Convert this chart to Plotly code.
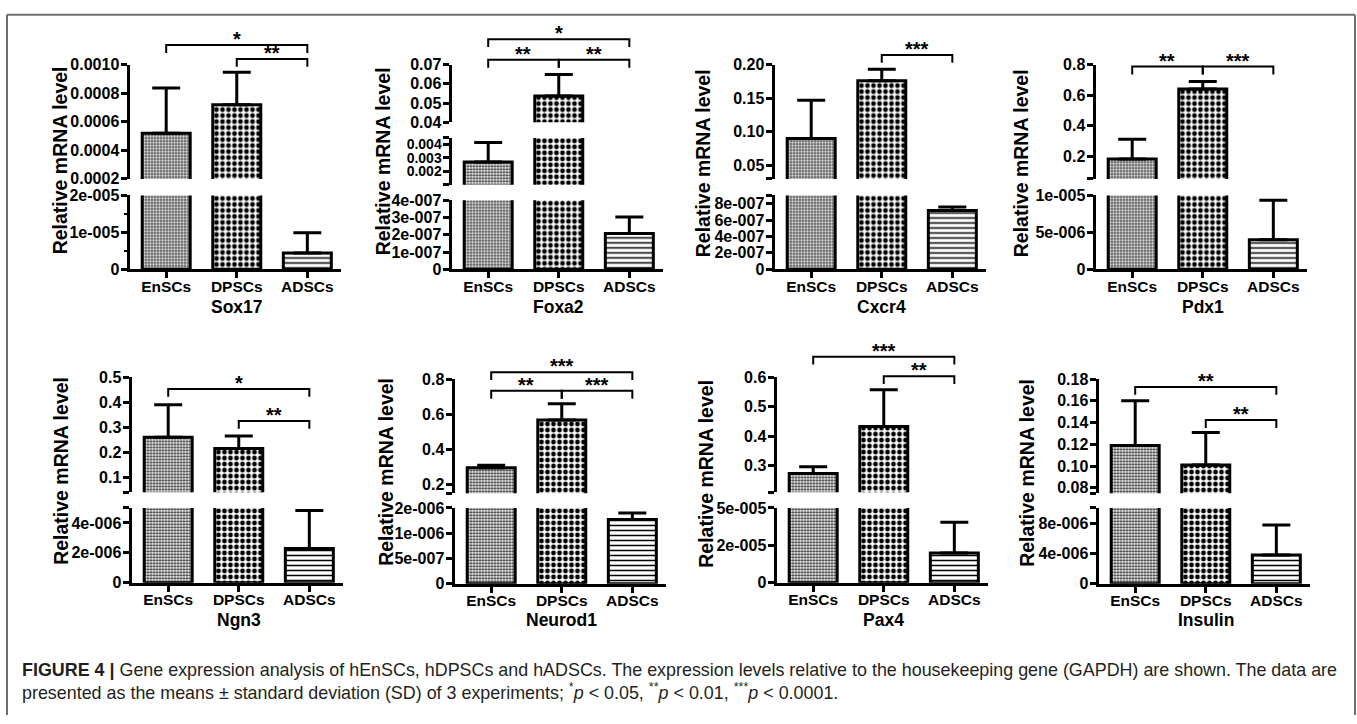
import plotly.graph_objects as go

W, H = 1357, 724
FONT = "Liberation Sans"

# ---------------- data ----------------
categories = ["EnSCs", "DPSCs", "ADSCs"]
genes = ["Sox17", "Foxa2", "Cxcr4", "Pdx1", "Ngn3", "Neurod1", "Pax4", "Insulin"]

sox17_mean = [5.2e-4, 7.2e-4, 4.4e-6]
sox17_sd = [3.17e-4, 2.27e-4, 5.5e-6]
foxa2_mean = [2.7e-3, 5.37e-2, 2.08e-7]
foxa2_sd = [1.45e-3, 1.12e-2, 9.5e-8]
cxcr4_mean = [0.090, 0.176, 7.17e-7]
cxcr4_sd = [0.057, 0.017, 4.3e-8]
pdx1_mean = [0.18, 0.64, 4.0e-6]
pdx1_sd = [0.13, 0.05, 5.35e-6]
ngn3_mean = [0.26, 0.215, 2.29e-6]
ngn3_sd = [0.13, 0.05, 2.54e-6]
neurod1_mean = [0.295, 0.567, 1.27e-6]
neurod1_sd = [0.015, 0.093, 1.3e-7]
pax4_mean = [0.274, 0.433, 1.99e-5]
pax4_sd = [0.023, 0.124, 2.05e-5]
insulin_mean = [0.119, 0.101, 3.8e-6]
insulin_sd = [0.041, 0.030, 3.95e-6]

# broken-axis segments (top to bottom): (low, high)
sox17_segments = [(2e-4, 1e-3), (0, 2e-5)]
foxa2_segments = [(0.04, 0.07), (0.001, 0.0045), (0, 4e-7)]
cxcr4_segments = [(0.03, 0.20), (0, 9e-7)]
pdx1_segments = [(0.05, 0.8), (0, 1e-5)]
ngn3_segments = [(0.04, 0.5), (0, 5e-6)]
neurod1_segments = [(0.15, 0.8), (0, 1.5e-6)]
pax4_segments = [(0.21, 0.6), (0, 5e-5)]
insulin_segments = [(0.075, 0.18), (0, 1e-5)]

# labelled tick values / labels per segment
sox17_tickvals = [[2e-4, 4e-4, 6e-4, 8e-4, 1e-3], [0, 1e-5, 2e-5]]
sox17_ticktext = [["0.0002", "0.0004", "0.0006", "0.0008", "0.0010"], ["0", "1e-005", "2e-005"]]
foxa2_tickvals = [[0.04, 0.05, 0.06, 0.07], [0.002, 0.003, 0.004], [0, 1e-7, 2e-7, 3e-7, 4e-7]]
foxa2_ticktext = [["0.04", "0.05", "0.06", "0.07"], ["0.002", "0.003", "0.004"],
                  ["0", "1e-007", "2e-007", "3e-007", "4e-007"]]
cxcr4_tickvals = [[0.05, 0.10, 0.15, 0.20], [0, 2e-7, 4e-7, 6e-7, 8e-7]]
cxcr4_ticktext = [["0.05", "0.10", "0.15", "0.20"], ["0", "2e-007", "4e-007", "6e-007", "8e-007"]]
pdx1_tickvals = [[0.2, 0.4, 0.6, 0.8], [0, 5e-6, 1e-5]]
pdx1_ticktext = [["0.2", "0.4", "0.6", "0.8"], ["0", "5e-006", "1e-005"]]
ngn3_tickvals = [[0.1, 0.2, 0.3, 0.4, 0.5], [0, 2e-6, 4e-6]]
ngn3_ticktext = [["0.1", "0.2", "0.3", "0.4", "0.5"], ["0", "2e-006", "4e-006"]]
neurod1_tickvals = [[0.2, 0.4, 0.6, 0.8], [0, 5e-7, 1e-6, 1.5e-6]]
neurod1_ticktext = [["0.2", "0.4", "0.6", "0.8"], ["0", "5e-007", "1e-006", "2e-006"]]
pax4_tickvals = [[0.3, 0.4, 0.5, 0.6], [0, 2.5e-5, 5e-5]]
pax4_ticktext = [["0.3", "0.4", "0.5", "0.6"], ["0", "2e-005", "5e-005"]]
insulin_tickvals = [[0.08, 0.10, 0.12, 0.14, 0.16, 0.18], [0, 4e-6, 8e-6]]
insulin_ticktext = [["0.08", "0.10", "0.12", "0.14", "0.16", "0.18"], ["0", "4e-006", "8e-006"]]

# significance brackets: (group i, group j, level in top-segment units, label)
sox17_sig = [(0, 2, 1.137e-3, "*"), (1, 2, 1.04e-3, "**")]
foxa2_sig = [(0, 2, 0.0832, "*"), (0, 1, 0.0725, "**"), (1, 2, 0.0725, "**")]
cxcr4_sig = [(1, 2, 0.2145, "***")]
pdx1_sig = [(0, 1, 0.787, "**"), (1, 2, 0.787, "***")]
ngn3_sig = [(0, 2, 0.453, "*"), (1, 2, 0.325, "**")]
neurod1_sig = [(0, 2, 0.839, "***"), (0, 1, 0.733, "**"), (1, 2, 0.733, "***")]
pax4_sig = [(0, 2, 0.669, "***"), (1, 2, 0.603, "**")]
insulin_sig = [(0, 2, 0.1728, "**"), (1, 2, 0.1423, "**")]

caption_line1 = ("<b>FIGURE 4 |</b> Gene expression analysis of hEnSCs, hDPSCs and hADSCs. "
                 "The expression levels relative to the housekeeping gene (GAPDH) are shown. The data are")
caption_line2 = ("presented as the means ± standard deviation (SD) of 3 experiments; "
                 "<sup>*</sup><i>p</i> &lt; 0.05, <sup>**</sup><i>p</i> &lt; 0.01, "
                 "<sup>***</sup><i>p</i> &lt; 0.0001.")

panels = {
    "Sox17": (sox17_mean, sox17_sd, sox17_segments, sox17_tickvals, sox17_ticktext, sox17_sig),
    "Foxa2": (foxa2_mean, foxa2_sd, foxa2_segments, foxa2_tickvals, foxa2_ticktext, foxa2_sig),
    "Cxcr4": (cxcr4_mean, cxcr4_sd, cxcr4_segments, cxcr4_tickvals, cxcr4_ticktext, cxcr4_sig),
    "Pdx1": (pdx1_mean, pdx1_sd, pdx1_segments, pdx1_tickvals, pdx1_ticktext, pdx1_sig),
    "Ngn3": (ngn3_mean, ngn3_sd, ngn3_segments, ngn3_tickvals, ngn3_ticktext, ngn3_sig),
    "Neurod1": (neurod1_mean, neurod1_sd, neurod1_segments, neurod1_tickvals, neurod1_ticktext, neurod1_sig),
    "Pax4": (pax4_mean, pax4_sd, pax4_segments, pax4_tickvals, pax4_ticktext, pax4_sig),
    "Insulin": (insulin_mean, insulin_sd, insulin_segments, insulin_tickvals, insulin_ticktext, insulin_sig),
}

# ---------------- geometry / style (pixels) ----------------
axis_x_px = [128, 450, 773, 1094, 130, 453, 775, 1097]
seg_px = {
    "Sox17": [(58, 175), (192, 269)],
    "Foxa2": [(58, 117), (133, 181), (197, 269)],
    "Cxcr4": [(58, 175), (192, 269)],
    "Pdx1": [(58, 175), (192, 269)],
    "Ngn3": [(378, 496), (512, 590)],
    "Neurod1": [(380, 497), (512, 591)],
    "Pax4": [(378, 496), (512, 590)],
    "Insulin": [(380, 497), (512, 591)],
}
ytitle_x_px = [60, 383, 703, 1021, 61, 386, 706, 1027]
ytitle_y_px = [156, 157, 159, 159, 474, 475, 477, 476]
gene_label_y_px = [306, 306, 306, 306, 627, 627, 627, 627]
PLOT_W = 211
XRANGE = [-0.52, 2.47]
LEG_PX = 8

pattern_shape = [".", ".", "-"]
pattern_size = [3, 6, 5]
pattern_solidity = [0.45, 0.5, 0.3]
pattern_fg = ["#222222", "black", "black"]

tickfont = dict(family=FONT, size=16, color="black", weight="bold")
tightfont = dict(family=FONT, size=14, color="black", weight="bold")
xtickfont = dict(family=FONT, size=15.5, color="black", weight="bold")

fig = go.Figure()
layout = dict(width=W, height=H, margin=dict(l=0, r=0, t=0, b=0),
              paper_bgcolor="white", plot_bgcolor="rgba(0,0,0,0)",
              showlegend=False, bargap=0.32)
shapes = []
annotations = []
xpos = list(range(len(categories)))

ycount = 0
for p, gene in enumerate(genes):
    mean, sd, segs, tvals, ttext, sig = panels[gene]
    xname = "x" if p == 0 else f"x{p+1}"
    xkey = "xaxis" if p == 0 else f"xaxis{p+1}"
    ax_px = axis_x_px[p] + 1.5
    x_dom = [ax_px / W, (ax_px + PLOT_W) / W]
    ynames = []
    for s, (lo, hi) in enumerate(segs):
        ycount += 1
        yname = "y" if ycount == 1 else f"y{ycount}"
        ykey = "yaxis" if ycount == 1 else f"yaxis{ycount}"
        ynames.append(yname)
        top_px, bot_px = seg_px[gene][s]
        if s == len(segs) - 1:
            bot_px -= 1.5
        y_dom = [1 - bot_px / H, 1 - top_px / H]
        err = [e if lo <= m <= hi else 0 for m, e in zip(mean, sd)]
        fig.add_trace(go.Bar(
            x=xpos, y=mean, xaxis=xname, yaxis=yname,
            marker=dict(color="white",
                        line=dict(color="black", width=3),
                        pattern=dict(shape=pattern_shape, size=pattern_size,
                                     solidity=pattern_solidity, fgcolor=pattern_fg,
                                     bgcolor="white", fillmode="replace")),
            error_y=dict(type="data", symmetric=False, array=err,
                         arrayminus=[0] * len(err), color="black",
                         thickness=3, width=14),
            hoverinfo="skip"))
        # label size from the pixel gap between labelled ticks
        px_per_unit = (bot_px - top_px) / (hi - lo)
        vals = tvals[s]
        min_gap = min(abs(a - b) for a, b in zip(vals[1:], vals[:-1])) * px_per_unit
        # unlabelled end ticks at the segment ends (axis-break marks)
        ends = [v for v in (lo, hi) if all(abs(v - t) > 1e-12 * max(1, abs(hi)) for t in vals)]
        yax = dict(domain=y_dom, range=[lo, hi], anchor=xname,
                   showline=True, linecolor="black", linewidth=3,
                   ticks="outside", ticklen=6, tickwidth=3, tickcolor="black",
                   tickvals=vals, ticktext=ttext[s],
                   tickfont=tightfont if min_gap < 16 else tickfont,
                   ticklabelstandoff=-2,
                   showgrid=False, zeroline=False, fixedrange=True)
        if gene == "Sox17" and s == 1:
            yax["minor"] = dict(tickvals=[5e-6, 1.5e-5], ticks="outside",
                                ticklen=3, tickwidth=2, tickcolor="black")
        elif ends:
            yax["minor"] = dict(tickvals=ends, ticks="outside",
                                ticklen=6, tickwidth=3, tickcolor="black")
        layout[ykey] = yax
    layout[xkey] = dict(domain=x_dom, range=XRANGE, anchor=ynames[-1],
                        showline=True, linecolor="black", linewidth=3,
                        ticks="outside", ticklen=6, tickwidth=3, tickcolor="black",
                        tickvals=xpos, ticktext=categories, tickfont=xtickfont,
                        ticklabelstandoff=-5,
                        showgrid=False, zeroline=False, fixedrange=True)

    # significance brackets above the top segment
    lo, hi = segs[0]
    top_px, bot_px = seg_px[gene][0]
    leg = LEG_PX / (bot_px - top_px)
    for (i, j, lvl, txt) in sig:
        f = (lvl - lo) / (hi - lo)
        shapes.append(dict(type="path", xref=xname, yref=f"{ynames[0]} domain",
                           path=f"M{i},{f - leg} L{i},{f} L{j},{f} L{j},{f - leg}",
                           line=dict(color="black", width=2)))
        annotations.append(dict(xref=xname, yref=f"{ynames[0]} domain",
                                x=(i + j) / 2, y=f, text=txt, showarrow=False,
                                yanchor="bottom", yshift=-7,
                                font=dict(family=FONT, size=20, color="black", weight="bold")))

    # y title
    annotations.append(dict(xref="paper", yref="paper",
                            x=ytitle_x_px[p] / W, y=1 - ytitle_y_px[p] / H,
                            text="Relative mRNA level", textangle=-90, showarrow=False,
                            xanchor="center", yanchor="middle",
                            font=dict(family=FONT, size=19.5, color="black", weight="bold")))
    # gene label
    annotations.append(dict(xref=xname, yref="paper", x=xpos[1], y=1 - gene_label_y_px[p] / H,
                            text=gene, showarrow=False, xanchor="center", yanchor="middle",
                            font=dict(family=FONT, size=17.5, color="black", weight="bold")))

# caption
annotations.append(dict(xref="paper", yref="paper", x=20 / W, y=1 - 678 / H,
                        text=caption_line1, showarrow=False, xanchor="left", yanchor="middle",
                        font=dict(family=FONT, size=17.9, color="#231f20")))
annotations.append(dict(xref="paper", yref="paper", x=20 / W, y=1 - 700 / H,
                        text=caption_line2, showarrow=False, xanchor="left", yanchor="middle",
                        font=dict(family=FONT, size=17.9, color="#231f20")))

# outer frame (top, left, right)
frame = dict(color="#6d6d6d", width=2)
shapes.append(dict(type="line", xref="paper", yref="paper", x0=7 / W, x1=1355 / W,
                   y0=1 - 7 / H, y1=1 - 7 / H, line=frame))
shapes.append(dict(type="line", xref="paper", yref="paper", x0=7 / W, x1=7 / W,
                   y0=1 - 7 / H, y1=0, line=frame))
shapes.append(dict(type="line", xref="paper", yref="paper", x0=1355 / W, x1=1355 / W,
                   y0=1 - 7 / H, y1=0, line=frame))

layout["shapes"] = shapes
layout["annotations"] = annotations
fig.update_layout(**layout)
fig.write_html("out.html", config={"displayModeBar": False},
               post_script="document.documentElement.style.margin='0';"
                           "document.body.style.margin='0';"
                           "document.documentElement.style.overflow='hidden';"
                           "document.body.style.overflow='hidden';")
